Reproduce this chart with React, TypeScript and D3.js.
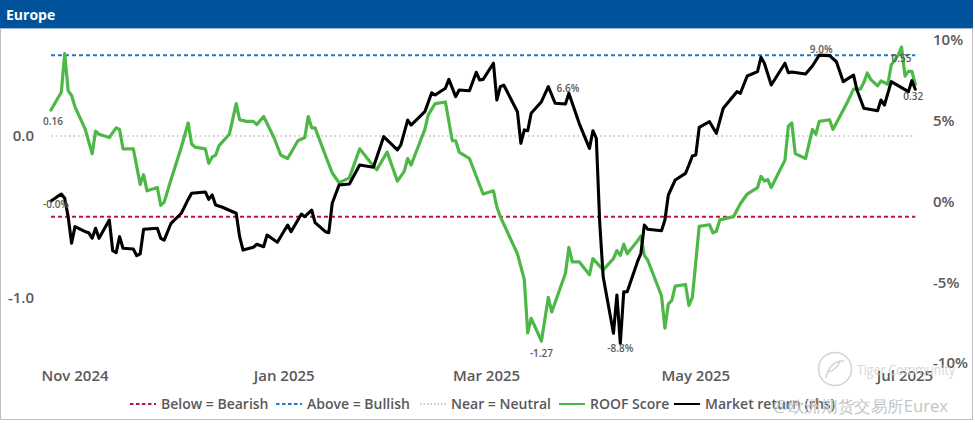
import React from 'react';
import * as d3 from 'd3';

const chartTitle = 'Europe';

const roofDates = [
  '2024-10-25','2024-10-28','2024-10-29','2024-10-30','2024-10-31','2024-11-01','2024-11-04','2024-11-06','2024-11-07','2024-11-08',
  '2024-11-11','2024-11-13','2024-11-14','2024-11-15','2024-11-18','2024-11-20','2024-11-21','2024-11-22','2024-11-25','2024-11-26',
  '2024-11-27','2024-11-29','2024-12-02','2024-12-04','2024-12-05','2024-12-06','2024-12-09','2024-12-10','2024-12-11','2024-12-12',
  '2024-12-13','2024-12-16','2024-12-18','2024-12-19','2024-12-21','2024-12-23','2024-12-24','2024-12-26','2024-12-29','2024-12-31',
  '2025-01-02','2025-01-05','2025-01-07','2025-01-08','2025-01-09','2025-01-10','2025-01-13','2025-01-15','2025-01-17','2025-01-18',
  '2025-01-20','2025-01-23','2025-01-26','2025-01-28','2025-01-31','2025-02-03','2025-02-05','2025-02-06','2025-02-07','2025-02-11',
  '2025-02-12','2025-02-14','2025-02-17','2025-02-19','2025-02-20','2025-02-21','2025-02-24','2025-02-28','2025-03-03','2025-03-04',
  '2025-03-05','2025-03-10','2025-03-12','2025-03-13','2025-03-14','2025-03-17','2025-03-19','2025-03-20','2025-03-24','2025-03-25',
  '2025-03-26','2025-03-28','2025-03-31','2025-04-01','2025-04-04','2025-04-07','2025-04-08','2025-04-09','2025-04-10','2025-04-11',
  '2025-04-14','2025-04-15','2025-04-16','2025-04-17','2025-04-21','2025-04-22','2025-04-23','2025-04-24','2025-04-25','2025-04-28',
  '2025-04-29','2025-04-30','2025-05-02','2025-05-05','2025-05-06','2025-05-07','2025-05-08','2025-05-12','2025-05-14','2025-05-16',
  '2025-05-19','2025-05-20','2025-05-21','2025-05-22','2025-05-23','2025-05-27','2025-05-28','2025-05-29','2025-05-30','2025-06-02',
  '2025-06-04','2025-06-05','2025-06-06','2025-06-09','2025-06-10','2025-06-14','2025-06-16','2025-06-18','2025-06-19','2025-06-20',
  '2025-06-21','2025-06-23','2025-06-24','2025-06-26','2025-06-27','2025-06-29','2025-06-30','2025-07-01','2025-07-02','2025-07-03',
  '2025-07-04'
];
const roofScores = [
  0.16, 0.27, 0.51, 0.28, 0.25, 0.18, 0.04, -0.11, 0.03, 0.01,
  -0.01, 0.05, 0.04, -0.08, -0.08, -0.30, -0.24, -0.34, -0.32, -0.43,
  -0.41, -0.27, -0.07, 0.08, -0.05, -0.07, -0.08, -0.17, -0.13, -0.12,
  -0.06, 0.01, 0.20, 0.10, 0.09, 0.09, 0.07, 0.12, -0.01, -0.12,
  -0.14, -0.03, -0.01, 0.12, 0.05, 0.05, -0.12, -0.23, -0.29, -0.28,
  -0.26, -0.08, -0.16, -0.21, -0.10, -0.28, -0.22, -0.14, -0.18, 0.04,
  0.13, 0.20, 0.21, -0.03, -0.03, -0.10, -0.14, -0.36, -0.34, -0.44,
  -0.50, -0.73, -0.89, -1.22, -1.13, -1.27, -1.00, -1.09, -0.85, -0.69,
  -0.78, -0.78, -0.86, -0.76, -0.83, -0.76, -0.71, -0.74, -0.67, -0.73,
  -0.65, -0.62, -0.74, -0.77, -0.99, -1.19, -1.04, -1.02, -0.93, -0.92,
  -1.05, -1.00, -0.56, -0.55, -0.60, -0.59, -0.52, -0.50, -0.42, -0.36,
  -0.32, -0.25, -0.28, -0.27, -0.32, -0.15, 0.06, 0.08, -0.11, -0.14,
  0.04, 0.01, 0.09, 0.10, 0.04, 0.20, 0.29, 0.29, 0.33, 0.39,
  0.35, 0.31, 0.34, 0.32, 0.44, 0.50, 0.55, 0.37, 0.40, 0.40,
  0.32
];

const returnDates = [
  '2024-10-25','2024-10-28','2024-10-29','2024-10-30','2024-10-31','2024-11-01','2024-11-04','2024-11-05','2024-11-06','2024-11-07',
  '2024-11-08','2024-11-11','2024-11-12','2024-11-13','2024-11-14','2024-11-15','2024-11-18','2024-11-19','2024-11-20','2024-11-21',
  '2024-11-25','2024-11-26','2024-11-27','2024-11-29','2024-12-02','2024-12-04','2024-12-05','2024-12-09','2024-12-10','2024-12-11',
  '2024-12-12','2024-12-14','2024-12-18','2024-12-19','2024-12-20','2024-12-23','2024-12-24','2024-12-26','2024-12-27','2024-12-30',
  '2025-01-02','2025-01-03','2025-01-06','2025-01-07','2025-01-09','2025-01-10','2025-01-13','2025-01-14','2025-01-15','2025-01-17',
  '2025-01-20','2025-01-23','2025-01-27','2025-01-30','2025-02-03','2025-02-04','2025-02-06','2025-02-07','2025-02-11','2025-02-13',
  '2025-02-14','2025-02-17','2025-02-18','2025-02-20','2025-02-21','2025-02-24','2025-02-26','2025-02-27','2025-02-28','2025-03-03',
  '2025-03-04','2025-03-05','2025-03-06','2025-03-10','2025-03-11','2025-03-12','2025-03-13','2025-03-14','2025-03-17','2025-03-19',
  '2025-03-21','2025-03-24','2025-03-25','2025-03-26','2025-03-28','2025-03-31','2025-04-01','2025-04-02','2025-04-03','2025-04-04',
  '2025-04-07','2025-04-08','2025-04-09','2025-04-10','2025-04-11','2025-04-14','2025-04-15','2025-04-16','2025-04-17','2025-04-21',
  '2025-04-22','2025-04-23','2025-04-25','2025-04-28','2025-04-29','2025-04-30','2025-05-01','2025-05-02','2025-05-05','2025-05-07',
  '2025-05-09','2025-05-13','2025-05-14','2025-05-16','2025-05-19','2025-05-20','2025-05-21','2025-05-23','2025-05-27','2025-05-28',
  '2025-05-29','2025-06-02','2025-06-04','2025-06-06','2025-06-09','2025-06-11','2025-06-13','2025-06-16','2025-06-17','2025-06-19',
  '2025-06-23','2025-06-24','2025-06-25','2025-06-27','2025-07-02','2025-07-03','2025-07-04'
];
const returnValues = [
  -0.03, 0.40, 0.14, -1.00, -2.65, -1.62, -1.93, -1.99, -2.34, -1.72,
  -2.34, -1.21, -3.11, -3.23, -2.24, -2.96, -3.00, -3.42, -3.31, -1.78,
  -1.72, -2.34, -2.45, -1.41, -0.79, 0.07, 0.45, 0.53, 0.07, 0.34,
  -0.28, -0.42, -0.79, -2.24, -3.07, -2.90, -2.71, -2.86, -2.14, -2.59,
  -1.52, -1.93, -0.84, -1.00, -0.59, -1.37, -1.93, -1.99, -0.17, 0.96,
  1.02, 2.20, 2.06, 3.95, 3.13, 3.44, 4.98, 4.67, 5.50, 6.67,
  6.53, 6.95, 7.50, 6.43, 6.84, 6.80, 7.94, 7.46, 7.50, 8.50,
  6.22, 7.05, 7.15, 5.50, 3.54, 4.37, 4.32, 5.40, 6.12, 7.05,
  6.02, 5.98, 6.64, 6.02, 4.78, 3.23, 4.32, 3.85, -1.41, -4.72,
  -8.22, -5.85, -8.84, -5.65, -5.65, -3.79, -3.27, -1.52, -1.78, -1.87,
  -1.21, 0.34, 1.27, 1.68, 2.20, 2.76, 2.82, 4.53, 4.88, 4.16,
  5.71, 6.74, 6.64, 7.71, 7.98, 8.87, 8.50, 7.15, 8.50, 7.91,
  7.96, 7.83, 8.33, 9.00, 8.97, 8.59, 7.36, 7.77, 6.84, 5.71,
  5.56, 6.22, 5.91, 7.36, 6.74, 7.42, 6.89
];

const monthTicks = ['2024-11-01', '2025-01-01', '2025-03-01', '2025-05-01', '2025-07-01'];
const scoreTicks = [0, -1];
const returnTicks = [10, 5, 0, -5, -10];
const bearishLevel = -0.5;
const bullishLevel = 0.5;
const neutralLevel = 0;
const returnCalloutDate = '2025-03-25';
const legendLabels = ['Below = Bearish', 'Above = Bullish', 'Near = Neutral', 'ROOF Score', 'Market return (rhs)'];
const watermarkBrand = 'Tiger Community';
const watermarkAuthor = '@欧洲期货交易所Eurex';

const FONT = "'Open Sans', 'Noto Sans', sans-serif";
const GREY = '#595959';
const GREEN = '#4DB848';
const BLUE = '#1F78C8';
const RED = '#C0143C';
const DOT = '#BDBDBD';

type Pt = { date: Date; v: number };

export default function App() {
  const W = 975;
  const H = 423;
  const parse = d3.utcParse('%Y-%m-%d');
  const x = d3.scaleUtc().domain([parse('2024-11-01')!, parse('2025-07-01')!]).range([75, 905]);
  const yL = d3.scaleLinear().domain([-1.4, 0.6]).range([362, 39]);
  const yR = d3.scaleLinear().domain([-10, 10]).range([362, 39]);

  const roof: Pt[] = roofDates.map((d, i) => ({ date: parse(d)!, v: roofScores[i] }));
  const ret: Pt[] = returnDates.map((d, i) => ({ date: parse(d)!, v: returnValues[i] }));

  const roofLine = d3.line<Pt>().x(d => x(d.date)).y(d => yL(d.v));
  const retLine = d3.line<Pt>().x(d => x(d.date)).y(d => yR(d.v));

  const lx0 = x(roof[0].date);
  const lx1 = x(roof[roof.length - 1].date);

  const fmtMonth = d3.utcFormat('%b %Y');

  const rMin = d3.minIndex(roof, d => d.v);
  const rMax = d3.maxIndex(roof, d => d.v);
  const tMin = d3.minIndex(ret, d => d.v);
  const tMax = d3.maxIndex(ret, d => d.v);
  const tCall = ret.findIndex(d => +d.date === +parse(returnCalloutDate)!);

  const roofLabels = [
    { p: roof[0], dx: 2, dy: 11 },
    { p: roof[rMin], dx: 0, dy: 12 },
    { p: roof[rMax], dx: 0, dy: 11 },
    { p: roof[roof.length - 1], dx: -2, dy: 12 },
  ];
  const retLabels = [
    { p: ret[0], dx: 5, dy: 4 },
    { p: ret[tCall], dx: -1, dy: -5 },
    { p: ret[tMin], dx: 0, dy: 5 },
    { p: ret[tMax], dx: 2, dy: -6 },
  ];

  const legendLayout = [
    { x: 130, kind: 'red' },
    { x: 276, kind: 'blue' },
    { x: 420, kind: 'dot' },
    { x: 559, kind: 'green' },
    { x: 674, kind: 'black' },
  ];
  const legendY = 404;

  const sample = (kind: string, x0: number) => {
    const common = { x1: x0, x2: x0 + 26, y1: legendY, y2: legendY };
    if (kind === 'red') return <line {...common} stroke={RED} strokeWidth={2} strokeDasharray="3.5 2.5" />;
    if (kind === 'blue') return <line {...common} stroke={BLUE} strokeWidth={2} strokeDasharray="3.5 2.5" />;
    if (kind === 'dot') return <line {...common} stroke={DOT} strokeWidth={1.5} strokeDasharray="1.5 2" />;
    if (kind === 'green') return <line {...common} stroke={GREEN} strokeWidth={2} />;
    return <line {...common} stroke="#000" strokeWidth={2} />;
  };

  return (
    <svg width={W} height={H} viewBox={`0 0 ${W} ${H}`} style={{ position: 'absolute', left: 0, top: 0, background: '#fff' }} fontFamily={FONT}>
      <rect x={0.5} y={0.5} width={972} height={419} fill="#fff" stroke="#BFBFBF" strokeWidth={1} />
      <rect x={0} y={0} width={973} height={28} fill="#00529B" />
      <line x1={0} x2={973} y1={28.5} y2={28.5} stroke="#9DB9D8" strokeWidth={1} />
      <text x={6} y={20} fill="#fff" fontSize={14} fontWeight={700}>{chartTitle}</text>

      {/* threshold lines */}
      <line x1={lx0} x2={lx1} y1={yL(neutralLevel)} y2={yL(neutralLevel)} stroke={DOT} strokeWidth={1.5} strokeDasharray="1.5 3" />
      <line x1={lx0} x2={lx1} y1={yL(bullishLevel)} y2={yL(bullishLevel)} stroke={BLUE} strokeWidth={2} strokeDasharray="4 3" />
      <line x1={lx0} x2={lx1} y1={yL(bearishLevel)} y2={yL(bearishLevel)} stroke={RED} strokeWidth={2} strokeDasharray="4 3" />

      {/* left axis */}
      {scoreTicks.map(t => (
        <text key={t} x={34} y={yL(t)} dy="0.35em" textAnchor="end" fontSize={15} fontWeight={600} fill={GREY}>
          {t.toFixed(1)}
        </text>
      ))}
      {/* right axis */}
      {returnTicks.map(t => (
        <text key={t} x={933} y={yR(t) + 1} dy="0.35em" textAnchor="start" fontSize={15} fontWeight={600} fill={GREY}>
          {`${t}%`}
        </text>
      ))}
      {/* x axis */}
      {monthTicks.map(m => (
        <text key={m} x={x(parse(m)!)} y={376} dy="0.35em" textAnchor="middle" fontSize={15} fontWeight={600} fill={GREY}>
          {fmtMonth(parse(m)!)}
        </text>
      ))}

      <path d={roofLine(roof) || ''} fill="none" stroke={GREEN} strokeWidth={3.2} strokeLinejoin="round" strokeLinecap="round" />
      <path d={retLine(ret) || ''} fill="none" stroke="#000" strokeWidth={3.1} strokeLinejoin="round" strokeLinecap="round" />

      {roofLabels.map((l, i) => (
        <text key={'rl' + i} x={x(l.p.date) + l.dx} y={yL(l.p.v) + l.dy} dy="0.35em" textAnchor="middle" fontSize={10} fontWeight={600} fill={GREY}>
          {l.p.v.toFixed(2)}
        </text>
      ))}
      {retLabels.map((l, i) => (
        <text key={'tl' + i} x={x(l.p.date) + l.dx} y={yR(l.p.v) + l.dy} dy="0.35em" textAnchor="middle" fontSize={10} fontWeight={600} fill={GREY}>
          {`${l.p.v.toFixed(1)}%`}
        </text>
      ))}

      {/* watermark */}
      <g opacity={0.9}>
        <circle cx={835} cy={369} r={16.5} fill="none" stroke="#D0D0D0" strokeWidth={1.5} />
        <path d="M826,378 C828,366 836,360 844,361 M829,372 C834,370 838,366 840,362" fill="none" stroke="#D0D0D0" strokeWidth={1.5} />
        <text x={857} y={370} dy="0.35em" fontSize={14} fill="#D3D3D3" textLength={98} lengthAdjust="spacingAndGlyphs">{watermarkBrand}</text>
      </g>

      {/* legend */}
      {legendLayout.map((l, i) => (
        <g key={'lg' + i}>
          {sample(l.kind, l.x)}
          <text x={l.x + 31} y={legendY} dy="0.35em" fontSize={14} fontWeight={600} fill={GREY}>{legendLabels[i]}</text>
        </g>
      ))}
      <text x={773} y={406} dy="0.35em" fontSize={16} fill="#C4C4C4" textLength={175} lengthAdjust="spacingAndGlyphs">{watermarkAuthor}</text>
    </svg>
  );
}
